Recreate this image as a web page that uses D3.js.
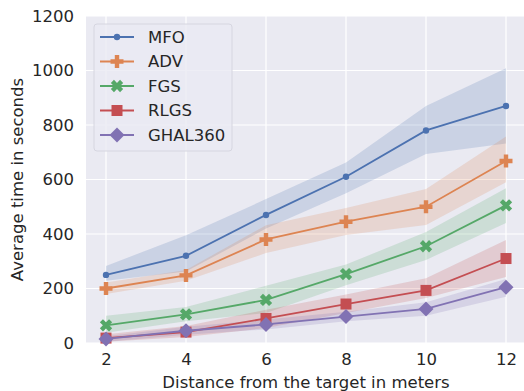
<!DOCTYPE html>
<html>
<head>
<meta charset="utf-8">
<script src="https://cdn.jsdelivr.net/npm/d3@7"></script>
<style>
  body { margin: 0; background: #ffffff; overflow: hidden; }
  svg text { font-family: "DejaVu Sans", sans-serif; fill: #262626; }
</style>
</head>
<body>
<div class="canvas"></div>
<script>
// data
const distances = [2, 4, 6, 8, 10, 12];
const yTicks = [0, 200, 400, 600, 800, 1000, 1200];
const methods = ["MFO", "ADV", "FGS", "RLGS", "GHAL360"];
const colors = ["#4c72b0", "#dd8452", "#55a868", "#c44e52", "#8172b3"];

const mfo = [250, 320, 470, 610, 780, 870];
const mfoLow = [228, 262, 420, 550, 694, 732];
const mfoHigh = [283, 395, 528, 662, 870, 1008];

const adv = [200, 248, 380, 445, 500, 668];
const advLow = [180, 228, 330, 396, 433, 590];
const advHigh = [222, 268, 432, 495, 565, 758];

const fgs = [65, 105, 158, 253, 355, 505];
const fgsLow = [38, 80, 110, 212, 305, 440];
const fgsHigh = [100, 132, 210, 288, 407, 568];

const rlgs = [18, 40, 90, 143, 193, 310];
const rlgsLow = [5, 22, 55, 110, 165, 242];
const rlgsHigh = [32, 62, 122, 178, 238, 378];

const ghal = [15, 45, 68, 97, 125, 205];
const ghalLow = [5, 30, 50, 80, 100, 170];
const ghalHigh = [25, 60, 86, 115, 150, 235];

const series = [
  {name: methods[0], mean: mfo, low: mfoLow, high: mfoHigh, shape: "circle"},
  {name: methods[1], mean: adv, low: advLow, high: advHigh, shape: "plus"},
  {name: methods[2], mean: fgs, low: fgsLow, high: fgsHigh, shape: "x"},
  {name: methods[3], mean: rlgs, low: rlgsLow, high: rlgsHigh, shape: "square"},
  {name: methods[4], mean: ghal, low: ghalLow, high: ghalHigh, shape: "diamond"}
];

const W = 524, H = 391;
// plot area runs a little past the right edge of the picture (it was cropped)
const m = {left: 86, right: -2, top: 16, bottom: 48};
const fs = 16.5;

const svg = d3.select(".canvas").append("svg")
  .attr("width", W).attr("height", H);

const x = d3.scaleLinear([1.5, 12.5], [m.left, W - m.right]);
const y = d3.scaleLinear([0, 1200], [H - m.bottom, m.top]);

svg.append("rect")
  .attr("x", m.left).attr("y", m.top)
  .attr("width", W - m.right - m.left).attr("height", H - m.bottom - m.top)
  .attr("fill", "#eaeaf2");

// grid
svg.append("g").selectAll("line").data(distances).join("line")
  .attr("x1", d => x(d)).attr("x2", d => x(d))
  .attr("y1", m.top).attr("y2", H - m.bottom)
  .attr("stroke", "#fff").attr("stroke-width", 1.2);
svg.append("g").selectAll("line").data(yTicks).join("line")
  .attr("x1", m.left).attr("x2", W - m.right)
  .attr("y1", d => y(d)).attr("y2", d => y(d))
  .attr("stroke", "#fff").attr("stroke-width", 1.2);

// axes (labels only, seaborn darkgrid has no ticks)
const xAxis = svg.append("g")
  .attr("transform", `translate(0,${H - m.bottom})`)
  .call(d3.axisBottom(x).tickValues(distances).tickFormat(d3.format("d")).tickSize(0).tickPadding(10));
const yAxis = svg.append("g")
  .attr("transform", `translate(${m.left},0)`)
  .call(d3.axisLeft(y).tickValues(yTicks).tickFormat(d3.format("d")).tickSize(0).tickPadding(12));
[xAxis, yAxis].forEach(a => {
  a.select(".domain").remove();
  a.selectAll("text").attr("font-size", fs).style("font-family", "DejaVu Sans").attr("fill", "#262626");
});

svg.append("text")
  .attr("x", x(7)).attr("y", H - 3)
  .attr("text-anchor", "middle").attr("font-size", fs)
  .text("Distance from the target in meters");
svg.append("text")
  .attr("transform", `translate(23,${(m.top + H - m.bottom) / 2}) rotate(-90)`)
  .attr("text-anchor", "middle").attr("font-size", fs)
  .text("Average time in seconds");

// markers
function marker(g, shape, c) {
  if (shape === "circle") {
    g.append("circle").attr("r", 3.2).attr("fill", c);
  } else if (shape === "plus") {
    g.append("path").attr("d", "M-2.2,-6.5H2.2V-2.2H6.5V2.2H2.2V6.5H-2.2V2.2H-6.5V-2.2H-2.2Z").attr("fill", c);
  } else if (shape === "x") {
    g.append("path").attr("d", "M-2.2,-6.5H2.2V-2.2H6.5V2.2H2.2V6.5H-2.2V2.2H-6.5V-2.2H-2.2Z")
      .attr("fill", c).attr("transform", "rotate(45)");
  } else if (shape === "square") {
    g.append("rect").attr("x", -5.5).attr("y", -5.5).attr("width", 11).attr("height", 11).attr("fill", c);
  } else {
    g.append("path").attr("d", "M0,-7.5L7.5,0L0,7.5L-7.5,0Z").attr("fill", c);
  }
}

const band = d3.area().x((d, i) => x(distances[i])).y0(d => y(d[0])).y1(d => y(d[1]));
const line = d3.line().x((d, i) => x(distances[i])).y(d => y(d));

series.forEach((s, k) => {
  svg.append("path")
    .datum(s.low.map((v, i) => [v, s.high[i]]))
    .attr("d", band).attr("fill", colors[k]).attr("fill-opacity", 0.2);
});
series.forEach((s, k) => {
  svg.append("path").datum(s.mean).attr("d", line)
    .attr("fill", "none").attr("stroke", colors[k]).attr("stroke-width", 1.8);
  s.mean.forEach((v, i) => {
    const g = svg.append("g").attr("transform", `translate(${x(distances[i])},${y(v)})`);
    marker(g, s.shape, colors[k]);
  });
});

// legend
const lg = svg.append("g");
lg.append("rect").attr("x", 94).attr("y", 24).attr("width", 138).attr("height", 127)
  .attr("rx", 3).attr("fill", "#eaeaf2").attr("fill-opacity", 0.8)
  .attr("stroke", "#d6d6e0").attr("stroke-width", 1);
series.forEach((s, k) => {
  const ly = 37 + k * 24.5;
  lg.append("line").attr("x1", 100).attr("x2", 134).attr("y1", ly).attr("y2", ly)
    .attr("stroke", colors[k]).attr("stroke-width", 1.8);
  marker(lg.append("g").attr("transform", `translate(117,${ly})`), s.shape, colors[k]);
  lg.append("text").attr("x", 148).attr("y", ly).attr("dy", "0.36em")
    .attr("font-size", fs).text(s.name);
});
</script>
</body>
</html>
